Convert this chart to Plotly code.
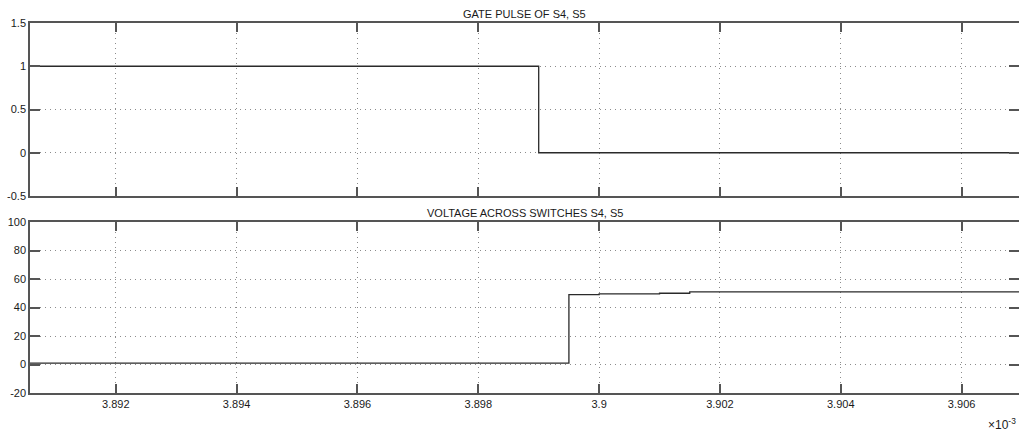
import plotly.graph_objects as go

# Data (time in units of 1e-3 s)
gate_t = [3.8905, 3.899, 3.908]
gate_v = [1, 0, 0]

volt_t = [3.8905, 3.8995, 3.9, 3.901, 3.9015, 3.908]
volt_v = [1, 49, 49.5, 50, 51, 51]

x_ticks = [3.892, 3.894, 3.896, 3.898, 3.900, 3.902, 3.904, 3.906]
x_ticktext = ["3.892", "3.894", "3.896", "3.898", "3.9", "3.902", "3.904", "3.906"]
gate_yticks = [-0.5, 0, 0.5, 1, 1.5]
gate_yticktext = ["-0.5", "0", "0.5", "1", "1.5"]
volt_yticks = [-20, 0, 20, 40, 60, 80, 100]
volt_yticktext = ["-20", "0", "20", "40", "60", "80", "100"]

titles = ["GATE PULSE OF S4, S5", "VOLTAGE ACROSS SWITCHES S4, S5"]

W, H = 1019, 434
xrange_ = [3.89058, 3.90695]

fig = go.Figure()
fig.add_trace(go.Scatter(x=gate_t, y=gate_v, mode="lines", line=dict(color="#2a2a2a", width=1.3, shape="hv"),
                         xaxis="x", yaxis="y", showlegend=False, hoverinfo="skip"))
fig.add_trace(go.Scatter(x=volt_t, y=volt_v, mode="lines", line=dict(color="#2a2a2a", width=1.3, shape="hv"),
                         xaxis="x2", yaxis="y2", showlegend=False, hoverinfo="skip"))

font = dict(family="Liberation Sans, Arial, sans-serif", size=11, color="#1a1a1a")
grid = dict(showgrid=True, gridcolor="#8c8c8c", griddash="1px,4px", gridwidth=1, zeroline=False,
            showline=True, linecolor="#555555", linewidth=1.5, mirror="ticks", automargin=False,
            ticks="inside", tickcolor="#555555", tickwidth=1.5)

def ydom(top_px, bot_px):
    return [1 - bot_px / H, 1 - top_px / H]

fig.update_layout(
    width=W, height=H,
    margin=dict(l=30, r=0, t=0, b=0, autoexpand=False),
    paper_bgcolor="white", plot_bgcolor="white",
    font=font,
    xaxis=dict(domain=[0, 1], range=xrange_, tickvals=x_ticks, ticktext=x_ticktext, showticklabels=False,
               ticklen=9, anchor="y", **grid),
    yaxis=dict(domain=ydom(23, 196), range=[-0.5, 1.5], tickvals=gate_yticks, ticktext=gate_yticktext,
               ticklen=10, anchor="x", **grid),
    xaxis2=dict(domain=[0, 1], range=xrange_, tickvals=x_ticks, ticktext=x_ticktext,
                ticklen=9, anchor="y2", **grid),
    yaxis2=dict(domain=ydom(222, 393), range=[-20, 100], tickvals=volt_yticks, ticktext=volt_yticktext,
                ticklen=10, anchor="x2", **grid),
    annotations=[
        dict(text=titles[0], xref="paper", yref="paper", x=0.5, y=1 - 14 / H, showarrow=False,
             xanchor="center", yanchor="middle", font=dict(size=11, color="#1a1a1a")),
        dict(text=titles[1], xref="paper", yref="paper", x=0.5, y=1 - 213 / H, showarrow=False,
             xanchor="center", yanchor="middle", font=dict(size=11, color="#1a1a1a")),
        dict(text="×10<sup>-3</sup>", xref="paper", yref="paper", x=0.999, y=1 - 434 / H, showarrow=False,
             xanchor="right", yanchor="bottom", font=dict(size=12, color="#1a1a1a")),
    ],
)

fig.write_html("out.html", config={"displayModeBar": False},
               post_script="document.body.style.margin='0';document.body.style.overflow='hidden';")
